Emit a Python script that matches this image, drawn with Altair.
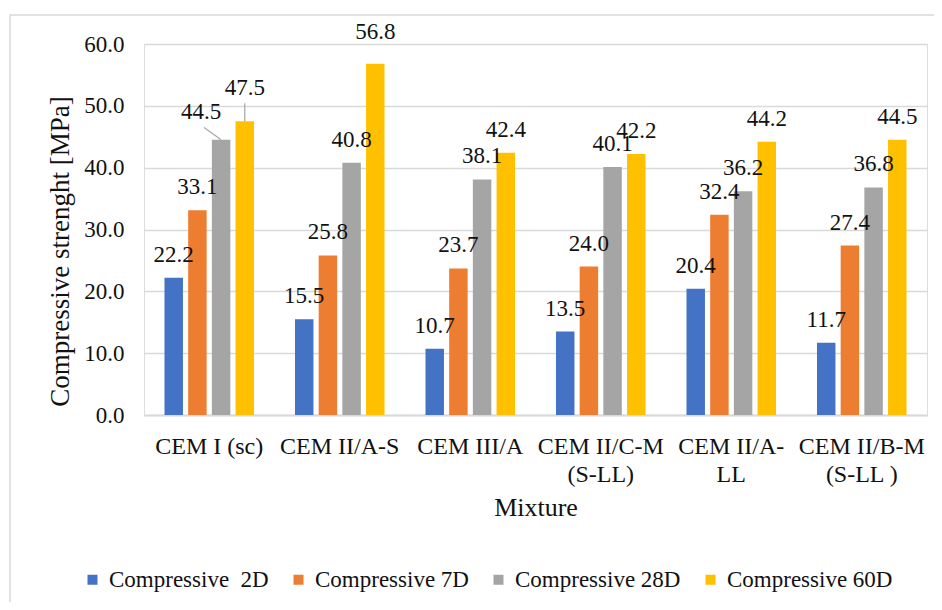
import altair as alt
import pandas as pd

categories = ["CEM I (sc)", "CEM II/A-S", "CEM III/A", "CEM II/C-M\n(S-LL)", "CEM II/A-\nLL", "CEM II/B-M\n(S-LL )"]
series = ["Compressive\u00a0 2D", "Compressive 7D", "Compressive 28D", "Compressive 60D"]
values_2d = [22.2, 15.5, 10.7, 13.5, 20.4, 11.7]
values_7d = [33.1, 25.8, 23.7, 24.0, 32.4, 27.4]
values_28d = [44.5, 40.8, 38.1, 40.1, 36.2, 36.8]
values_60d = [47.5, 56.8, 42.4, 42.2, 44.2, 44.5]
colors = ["#4472C4", "#ED7D31", "#A5A5A5", "#FFC000"]
y_ticks = [0, 10, 20, 30, 40, 50, 60]

rows = []
for s, vals in zip(series, [values_2d, values_7d, values_28d, values_60d]):
    for c, v in zip(categories, vals):
        rows.append({"Mixture": c, "Series": s, "Value": v})
df = pd.DataFrame(rows)

FONT = "Liberation Serif"
W, H = 783, 371

x_enc = alt.X("Mixture:N", sort=categories,
              scale=alt.Scale(paddingInner=0.274, paddingOuter=0.137),
              axis=alt.Axis(title="Mixture", labelAngle=0, labelFontSize=24,
                            labelExpr="split(datum.value, '\\n')", labelLineHeight=28,
                            labelPadding=19, titleFontSize=26, titlePadding=8,
                            domainColor="#d9d9d9", domainWidth=2, ticks=False,
                            labelColor="#111", titleColor="#111", titleFontWeight="normal",
                            labelFont=FONT, titleFont=FONT))
xo_enc = alt.XOffset("Series:N", sort=series,
                     scale=alt.Scale(paddingInner=0.22, paddingOuter=0.11))
y_enc = alt.Y("Value:Q", scale=alt.Scale(domain=[0, 60], nice=False),
              axis=alt.Axis(title="Compressive strenght [MPa]", values=y_ticks, format=".1f",
                            labelFontSize=23, labelPadding=20, domain=False, ticks=False,
                            gridColor="#d9d9d9", gridWidth=1.5,
                            titleFontSize=27, titleFontWeight="normal", titleAngle=-90,
                            titleX=-84, titleY=207, titleBaseline="middle", titleAlign="center",
                            labelColor="#111", titleColor="#111",
                            labelFont=FONT, titleFont=FONT))

base = alt.Chart(df)

bars = base.mark_bar().encode(
    x=x_enc, xOffset=xo_enc, y=y_enc,
    color=alt.Color("Series:N", sort=series,
                    scale=alt.Scale(domain=series, range=colors),
                    legend=alt.Legend(title=None, orient="none", direction="horizontal",
                                      legendX=-63, legendY=524, symbolType="square",
                                      symbolSize=100, symbolStrokeWidth=0,
                                      labelFontSize=23, labelFont=FONT, labelColor="#111",
                                      columnPadding=18, labelOffset=5, labelLimit=300)),
)

sel28 = "datum.Mixture == 'CEM I (sc)' && datum.Series == 'Compressive 28D'"
sel60 = "datum.Mixture == 'CEM I (sc)' && datum.Series == 'Compressive 60D'"
selTop = "datum.Mixture == 'CEM II/A-S' && datum.Series == 'Compressive 60D'"

def text_layer(filt, dy, dx=0):
    return base.transform_filter(filt).mark_text(
        font=FONT, fontSize=23, baseline="middle", dy=dy, dx=dx, color="#111"
    ).encode(x=x_enc, xOffset=xo_enc, y=y_enc, text=alt.Text("Value:Q", format=".1f"))

labels = text_layer("!(" + sel28 + ") && !(" + sel60 + ") && !(" + selTop + ")", -23)
lab28 = text_layer(sel28, -28, -20)
lab60 = text_layer(sel60, -33)
labTop = text_layer(selTop, -32)

lead28 = base.transform_filter(sel28).mark_point(
    shape="M0,0L-1,-0.72", size=1156, filled=False, stroke="#a6a6a6", strokeWidth=1.2, opacity=1
).encode(x=x_enc, xOffset=xo_enc, y=y_enc)

lead60 = base.transform_filter(sel60).mark_point(
    shape="M0,0L0,-1", size=1296, filled=False, stroke="#a6a6a6", strokeWidth=1.2, opacity=1
).encode(x=x_enc, xOffset=xo_enc, y=y_enc)

frame = alt.Chart(pd.DataFrame({"f": [0]})).mark_rect(
    fill=None, stroke="#d9d9d9", strokeWidth=1.5
).encode(x=alt.value(-134), x2=alt.value(W + 40), y=alt.value(-29), y2=alt.value(H + 240))

chart = alt.layer(frame, bars, labels, lab28, lab60, labTop, lead28, lead60).properties(
    width=W, height=H,
    autosize=alt.AutoSizeParams(type="none"),
    padding={"left": 136, "top": 36, "right": 7, "bottom": 187},
).configure_view(stroke=None).configure(background="white", font=FONT)

chart.save("out.html", embed_options={"renderer": "svg", "actions": False})
